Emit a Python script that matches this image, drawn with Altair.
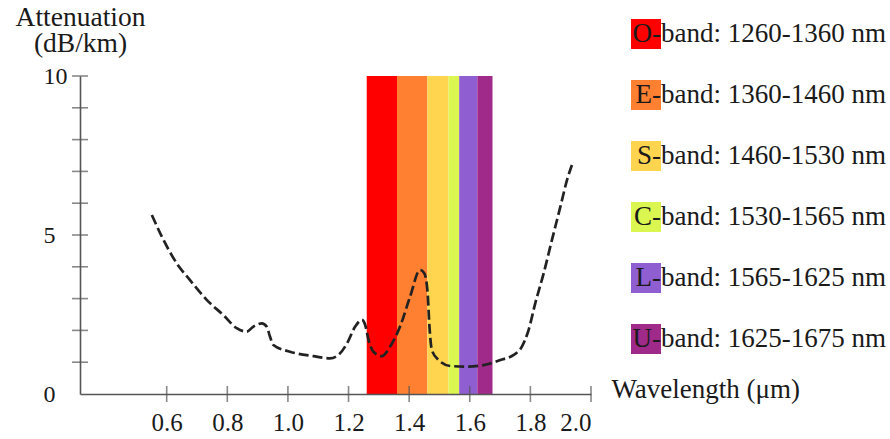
import altair as alt
import pandas as pd

# Fibre attenuation curve (wavelength in µm, attenuation in dB/km)
wavelength_um = [0.551, 0.584, 0.633, 0.677, 0.732, 0.787, 0.831, 0.864, 0.886, 0.914,
                 0.930, 0.941, 0.952, 1.007, 1.084, 1.139, 1.167, 1.195, 1.222, 1.244,
                 1.255, 1.266, 1.282, 1.310, 1.337, 1.370, 1.403, 1.436, 1.450, 1.461,
                 1.467, 1.475, 1.497, 1.536, 1.591, 1.646, 1.701, 1.745, 1.772, 1.794,
                 1.816, 1.844, 1.871, 1.899, 1.921, 1.937]
attenuation_db_km = [5.63, 4.95, 4.11, 3.58, 2.96, 2.48, 2.07, 1.96, 2.12, 2.22,
                     2.12, 1.80, 1.54, 1.33, 1.19, 1.12, 1.23, 1.59, 2.12, 2.33,
                     2.17, 1.70, 1.33, 1.19, 1.49, 2.12, 3.06, 3.90, 3.80, 3.17,
                     2.12, 1.38, 1.07, 0.88, 0.86, 0.91, 1.07, 1.23, 1.49, 2.01,
                     2.85, 3.80, 4.84, 5.89, 6.73, 7.20]

# Optical communication bands
band_names = ["O-band: 1260-1360 nm", "E-band: 1360-1460 nm", "S-band: 1460-1530 nm",
              "C-band: 1530-1565 nm", "L-band: 1565-1625 nm", "U-band: 1625-1675 nm"]
band_start_nm = [1260, 1360, 1460, 1530, 1565, 1625]
band_end_nm = [1360, 1460, 1530, 1565, 1625, 1675]
band_colors = ["#ff0000", "#ff8030", "#ffd54f", "#dbf651", "#8f5fd1", "#a02a8a"]
band_top = 10

# Axis ticks and labels
x_ticks = [0.6, 0.8, 1.0, 1.2, 1.4, 1.6, 1.8, 2.0]
y_ticks = [1, 2, 3, 4, 5, 6, 7, 8, 9, 10]
y_labels = [0, 5, 10]
x_min, x_max = 0.314, 2.0

FONT = "Liberation Serif"
AXIS_GRAY = "#555555"
TEXT = "#1a1a1a"

band_letters = [name[:2] for name in band_names]

curve = pd.DataFrame({"wl": wavelength_um, "att": attenuation_db_km})
bands = pd.DataFrame({
    "band": band_names,
    "letter": band_letters,
    "start": [v / 1000 for v in band_start_nm],
    "end": [v / 1000 for v in band_end_nm],
})
xt = pd.DataFrame({"t": x_ticks})
yt = pd.DataFrame({"t": y_ticks})

xscale = alt.Scale(domain=[x_min, x_max], nice=False, zero=False)
yscale = alt.Scale(domain=[0, 10], nice=False)

x_axis = alt.Axis(
    values=x_ticks, format=".1f", ticks=False, tickSize=0, grid=False,
    labelPadding=16, labelFontSize=25, labelColor=TEXT, labelFont=FONT,
    domainColor=AXIS_GRAY, domainWidth=1.6, zindex=1,
    title="Wavelength (μm)", titleFont=FONT, titleFontSize=27, titleFontWeight="normal",
    titleColor=TEXT, titleAlign="left", titleBaseline="alphabetic",
    titleAnchor="start", titleX=531, titleY=3,
)
y_axis = alt.Axis(
    values=y_labels, ticks=False, tickSize=0, grid=False,
    labelAlign="left", labelBaseline="middle", labelPadding=37,
    labelFontSize=24, labelColor=TEXT, labelFont=FONT,
    domainColor=AXIS_GRAY, domainWidth=1.6, zindex=1,
    title=["Attenuation", "(dB/km)"], titleFont=FONT, titleFontSize=27.5,
    titleFontWeight="normal", titleColor=TEXT, titleAngle=0,
    titleAlign="center", titleBaseline="alphabetic", titleLineHeight=26,
    titleX=0, titleY=-51,
)

LEGEND_X, LEGEND_Y, ROW_GAP = 551, -57, 31

# Coloured squares with the range text after them
band_layer = alt.Chart(bands).mark_rect().encode(
    x=alt.X("start:Q", scale=xscale, axis=x_axis),
    x2="end:Q",
    y=alt.Y(datum=0, type="quantitative", scale=yscale, axis=y_axis),
    y2=alt.datum(band_top),
    color=alt.Color(
        "band:N",
        scale=alt.Scale(domain=band_names, range=band_colors),
        sort=band_names,
        legend=alt.Legend(
            orient="none", legendX=LEGEND_X, legendY=LEGEND_Y, direction="vertical",
            title=None, padding=0, symbolType="square", symbolSize=900,
            symbolStrokeWidth=0, symbolOpacity=1,
            labelExpr="substring(datum.label, 2)",
            labelFont=FONT, labelFontSize=27, labelColor=TEXT,
            labelOffset=0, labelLimit=400, rowPadding=ROW_GAP,
        ),
    ),
)

# Band letters printed on top of the coloured squares
letter_layer = alt.Chart(bands).mark_point(opacity=0).encode(
    x=alt.X("start:Q", scale=xscale),
    y=alt.Y(datum=0, type="quantitative", scale=yscale),
    shape=alt.Shape(
        "letter:N",
        scale=alt.Scale(domain=band_letters, range=["square"] * len(band_letters)),
        sort=band_letters,
        legend=alt.Legend(
            orient="none", legendX=LEGEND_X, legendY=LEGEND_Y, direction="vertical",
            title=None, padding=0, symbolSize=900, symbolOpacity=0,
            symbolStrokeWidth=0, symbolStrokeColor="transparent",
            symbolFillColor="transparent",
            labelFont=FONT, labelFontSize=27, labelColor=TEXT, labelAlign="right",
            labelOffset=0, labelLimit=400, rowPadding=ROW_GAP, zindex=2,
        ),
    ),
)

curve_layer = alt.Chart(curve).mark_line(
    color="#222222", strokeWidth=2.7, strokeDash=[10, 4], interpolate="monotone"
).encode(
    x=alt.X("wl:Q", scale=xscale),
    y=alt.Y("att:Q", scale=yscale),
)

# Tick marks crossing the axis lines
x_tick_layer = alt.Chart(xt).mark_tick(
    orient="vertical", size=16, thickness=1.6, color=AXIS_GRAY
).encode(
    x=alt.X("t:Q", scale=xscale),
    y=alt.Y(datum=0, type="quantitative", scale=yscale),
)
y_tick_layer = alt.Chart(yt).mark_tick(
    orient="horizontal", size=16, thickness=1.6, color=AXIS_GRAY
).encode(
    y=alt.Y("t:Q", scale=yscale),
    x=alt.X(datum=x_min, type="quantitative", scale=xscale),
)

chart = alt.layer(
    band_layer, letter_layer, curve_layer, x_tick_layer, y_tick_layer
).properties(
    width=511,
    height=318,
    autosize=alt.AutoSizeParams(type="none"),
    padding={"left": 80, "top": 76, "right": 299, "bottom": 45},
).configure(
    font=FONT, background="white"
).configure_view(stroke=None)

chart.save("out.html", embed_options={"renderer": "svg", "actions": False})
